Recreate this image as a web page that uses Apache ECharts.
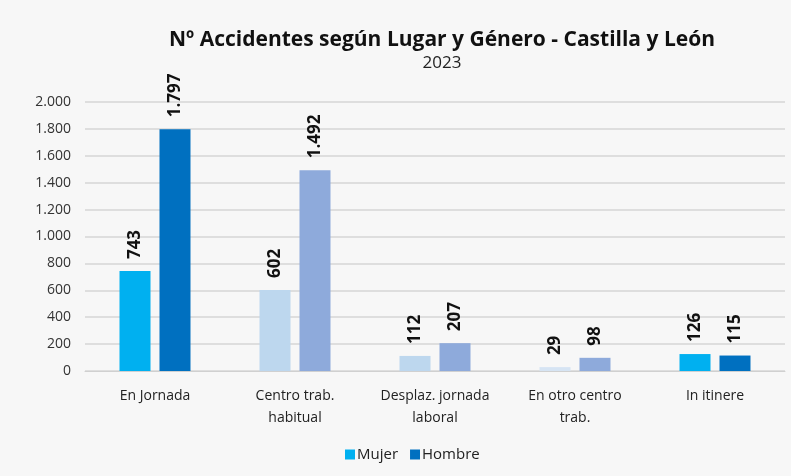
<!DOCTYPE html>
<html>
<head>
<meta charset="utf-8">
<script src="https://cdn.jsdelivr.net/npm/echarts@6/dist/echarts.min.js"></script>
<style>
  html, body { margin: 0; padding: 0; background: #f7f7f7; }
  #chart { width: 791px; height: 476px; }
</style>
</head>
<body>
<div id="chart"></div>
<script>
// Accidentes laborales por lugar y género, Castilla y León 2023
const categories = ['En Jornada', 'Centro trab.\nhabitual', 'Desplaz. jornada\nlaboral', 'En otro centro\ntrab.', 'In itinere'];
const mujer = [743, 602, 112, 29, 126];
const hombre = [1797, 1492, 207, 98, 115];
const mujerColors = ['#00b0f0', '#bdd7ee', '#bdd7ee', '#d6e4f3', '#00b0f0'];
const hombreColors = ['#0070c0', '#8eaadb', '#8eaadb', '#8eaadb', '#0070c0'];

const fmt = v => String(v).replace(/\B(?=(\d{3})+(?!\d))/g, '.');
const FONT = '"Open Sans", sans-serif';

const valueLabel = {
  show: true, position: 'top', rotate: 90, align: 'left', verticalAlign: 'middle', distance: 12,
  fontFamily: FONT, fontWeight: 'bold', fontSize: 17, color: '#111', formatter: p => fmt(p.value)
};

const chart = echarts.init(document.getElementById('chart'));
chart.setOption({
  backgroundColor: '#f7f7f7',
  animation: false,
  title: {
    text: 'Nº Accidentes según Lugar y Género - Castilla y León',
    subtext: '2023',
    left: 437,
    textAlign: 'center',
    top: 25,
    itemGap: 4,
    textStyle: { fontFamily: FONT, fontWeight: 'bold', fontSize: 21, color: '#111' },
    subtextStyle: { fontFamily: FONT, fontSize: 17, color: '#222' }
  },
  legend: {
    bottom: 9,
    left: 340,
    icon: 'rect',
    itemWidth: 10,
    itemHeight: 10,
    itemGap: 12,
    textStyle: { fontFamily: FONT, fontSize: 15, color: '#222', padding: [0, 0, 0, -3] },
    data: [
      { name: 'Mujer', itemStyle: { color: '#00b0f0' } },
      { name: 'Hombre', itemStyle: { color: '#0070c0' } }
    ]
  },
  grid: { left: 85, right: 6, top: 102, bottom: 105, containLabel: false },
  xAxis: {
    type: 'category',
    data: categories,
    axisTick: { show: false },
    axisLine: { lineStyle: { color: '#d0d0d0' } },
    axisLabel: { fontFamily: FONT, fontSize: 14, color: '#222', margin: 14, lineHeight: 22, interval: 0 }
  },
  yAxis: {
    type: 'value',
    min: 0,
    max: 2000,
    interval: 200,
    axisLine: { show: false },
    axisTick: { show: false },
    splitLine: { lineStyle: { color: '#d6d6d6', width: 1.5 } },
    axisLabel: { fontFamily: FONT, fontSize: 14, color: '#333', margin: 14, formatter: fmt }
  },
  series: [
    {
      name: 'Mujer',
      type: 'bar',
      barWidth: 31,
      barGap: '29%',
      itemStyle: { color: '#00b0f0' },
      data: mujer.map((v, i) => ({ value: v, itemStyle: { color: mujerColors[i] } })),
      label: valueLabel
    },
    {
      name: 'Hombre',
      type: 'bar',
      barWidth: 31,
      itemStyle: { color: '#0070c0' },
      data: hombre.map((v, i) => ({ value: v, itemStyle: { color: hombreColors[i] } })),
      label: valueLabel
    }
  ]
});
</script>
</body>
</html>
